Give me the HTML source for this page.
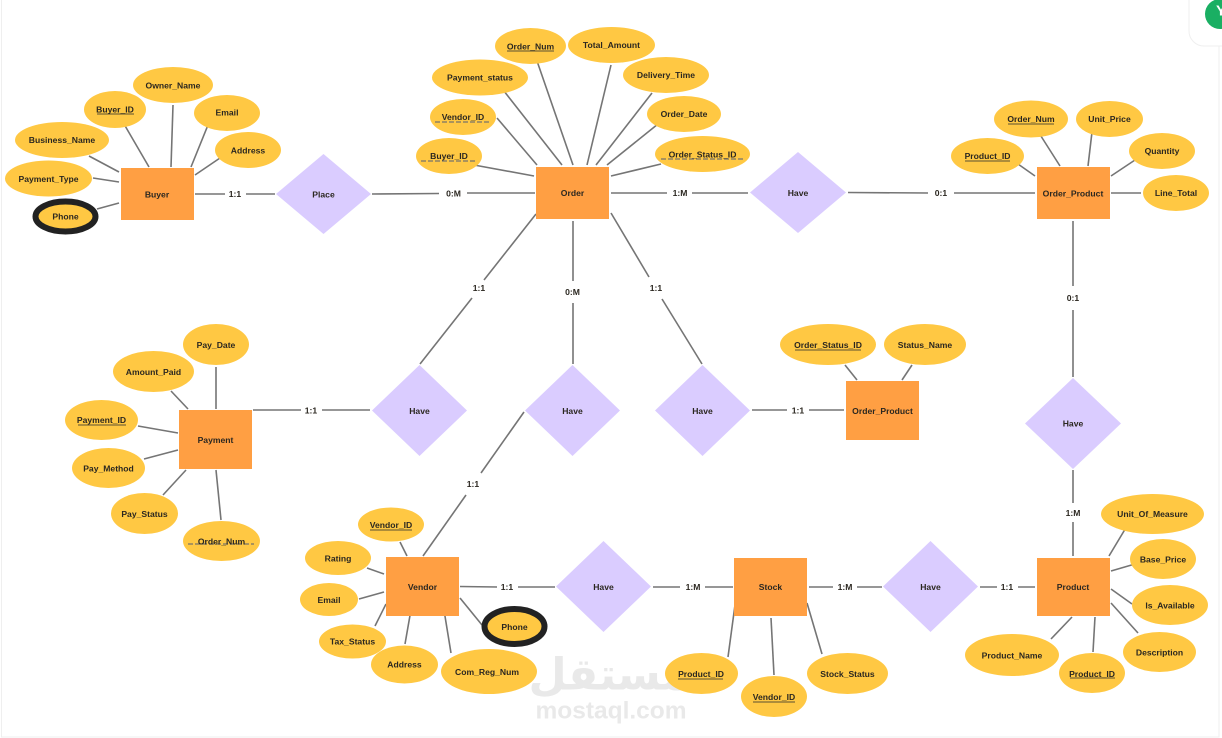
<!DOCTYPE html>
<html><head><meta charset="utf-8"><title>ER Diagram</title>
<style>
html,body{margin:0;padding:0;background:#fff;width:1222px;height:738px;overflow:hidden}
svg{display:block}
text{font-family:"Liberation Sans",sans-serif;font-size:8.6px;font-weight:700;fill:#2b2720;text-anchor:middle;dominant-baseline:central}
.l line{stroke:#757575;stroke-width:1.6}
.a{fill:#FFC843}
.e{fill:#FF9F43}
.d{fill:#DACCFF}
.u line{stroke:#5b5030;stroke-width:1}
.f line{stroke:#77736a;stroke-width:1.3;stroke-dasharray:5 2}
</style></head><body>
<svg width="1222" height="738" viewBox="0 0 1222 738" xmlns="http://www.w3.org/2000/svg">
<rect x="1.5" y="-2" width="1217.5" height="739" fill="#fff" stroke="#efefef" stroke-width="1"/>

<!-- watermark -->
<text x="609" y="675" style="font-family:'DejaVu Sans',sans-serif;font-size:44px;fill:#e9e9e9">مستقل</text>
<text x="611" y="711" style="font-size:24.5px;fill:#e9e9e9">mostaql.com</text>

<!-- corner widget -->
<rect x="1189" y="-20" width="60" height="66" rx="15" fill="#fff" stroke="#efefef"/>
<circle cx="1220" cy="14" r="15" fill="#1AAF63"/>
<text x="1221" y="11" style="font-size:15px;fill:#fff">Y</text>

<g class="l">
<!-- Buyer -->
<line x1="124" y1="124" x2="149" y2="167"/><line x1="173" y1="105" x2="171" y2="167"/><line x1="208" y1="125" x2="191" y2="167"/><line x1="220" y1="158" x2="195" y2="175"/><line x1="89" y1="156" x2="119" y2="172"/><line x1="93" y1="178" x2="119" y2="182"/><line x1="97" y1="209" x2="119" y2="203"/>
<line x1="195" y1="194" x2="225" y2="194"/><line x1="246" y1="194" x2="275" y2="194"/>
<line x1="372" y1="194" x2="439" y2="193.5"/><line x1="467" y1="193" x2="535" y2="193"/>
<!-- Order -->
<line x1="537" y1="61" x2="573" y2="165"/><line x1="611" y1="65" x2="587" y2="165"/><line x1="500" y1="86" x2="562" y2="165"/><line x1="652" y1="93" x2="596" y2="165"/><line x1="497" y1="118" x2="537" y2="165"/><line x1="658" y1="124" x2="607" y2="165"/><line x1="474" y1="165" x2="534" y2="176"/><line x1="661" y1="164" x2="611" y2="176"/>
<line x1="611" y1="193" x2="667" y2="193"/><line x1="692" y1="193" x2="748" y2="193"/>
<line x1="848" y1="192.5" x2="928" y2="193"/><line x1="954" y1="193" x2="1035" y2="193"/>
<!-- Order_Product top -->
<line x1="1039" y1="133" x2="1060" y2="166"/><line x1="1092" y1="132" x2="1088" y2="166"/><line x1="1018" y1="164" x2="1035" y2="176"/><line x1="1135" y1="160" x2="1111" y2="176"/><line x1="1111" y1="193" x2="1141" y2="193"/>
<line x1="1073" y1="221" x2="1073" y2="286"/><line x1="1073" y1="310" x2="1073" y2="377"/>
<line x1="1073" y1="470" x2="1073" y2="503"/><line x1="1073" y1="522" x2="1073" y2="556"/>
<!-- Product -->
<line x1="1127" y1="526" x2="1109" y2="556"/><line x1="1135" y1="564" x2="1111" y2="571"/><line x1="1132" y1="604" x2="1111" y2="589"/><line x1="1138" y1="633" x2="1111" y2="603"/><line x1="1095" y1="617" x2="1093" y2="652"/><line x1="1072" y1="617" x2="1051" y2="639"/>
<line x1="980" y1="587" x2="997" y2="587"/><line x1="1018" y1="587" x2="1035" y2="587"/>
<!-- Stock -->
<line x1="653" y1="587" x2="680" y2="587"/><line x1="705" y1="587" x2="733" y2="587"/><line x1="809" y1="587" x2="833" y2="587"/><line x1="857" y1="587" x2="882" y2="587"/>
<line x1="735" y1="605" x2="728" y2="657"/><line x1="771" y1="618" x2="774" y2="675"/><line x1="807" y1="603" x2="822" y2="654"/>
<!-- Vendor -->
<line x1="400" y1="542" x2="407" y2="556"/><line x1="423" y1="556" x2="466" y2="495"/><line x1="481" y1="473" x2="524" y2="412"/>
<line x1="367" y1="568" x2="384" y2="574"/><line x1="359" y1="599" x2="384" y2="592"/><line x1="386" y1="604" x2="375" y2="626"/><line x1="412" y1="604" x2="405" y2="644"/><line x1="443" y1="604" x2="451" y2="653"/><line x1="460" y1="598" x2="482" y2="625"/>
<line x1="460" y1="586.5" x2="497" y2="587"/><line x1="518" y1="587" x2="555" y2="587"/>
<!-- Order down -->
<line x1="536" y1="214" x2="484" y2="280"/><line x1="472" y1="298" x2="420" y2="364"/>
<line x1="573" y1="221" x2="573" y2="281"/><line x1="573" y1="303" x2="573" y2="364"/>
<line x1="611" y1="213" x2="649" y2="277"/><line x1="662" y1="299" x2="702" y2="364"/>
<!-- Status -->
<line x1="845" y1="365" x2="857" y2="380"/><line x1="912" y1="365" x2="902" y2="380"/>
<line x1="752" y1="410" x2="787" y2="410"/><line x1="809" y1="410" x2="844" y2="410"/>
<!-- Payment -->
<line x1="216" y1="367" x2="216" y2="409"/><line x1="171" y1="391" x2="188" y2="409"/><line x1="138" y1="426" x2="178" y2="433"/><line x1="144" y1="459" x2="178" y2="450"/><line x1="163" y1="495" x2="186" y2="470"/><line x1="216" y1="470" x2="221" y2="520"/>
<line x1="253" y1="410" x2="301" y2="410"/><line x1="322" y1="410" x2="370" y2="410"/>
</g>

<!-- Entities -->
<rect class="e" x="121" y="168" width="73" height="52"/>
<rect class="e" x="536" y="167" width="73" height="52"/>
<rect class="e" x="1037" y="167" width="73" height="52"/>
<rect class="e" x="179" y="410" width="73" height="59"/>
<rect class="e" x="846" y="381" width="73" height="59"/>
<rect class="e" x="386" y="557" width="73" height="59"/>
<rect class="e" x="734" y="558" width="73" height="58"/>
<rect class="e" x="1037" y="558" width="73" height="58"/>

<!-- Relationships -->
<polygon class="d" points="323.5,154 371,194 323.5,234 276,194"/>
<polygon class="d" points="798,152 846,192.5 798,233 750,192.5"/>
<polygon class="d" points="419.5,365 467,410.5 419.5,456 372,410.5"/>
<polygon class="d" points="572.5,365 620,410.5 572.5,456 525,410.5"/>
<polygon class="d" points="702.5,365 750,410.5 702.5,456 655,410.5"/>
<polygon class="d" points="1073,378 1121,423.5 1073,469 1025,423.5"/>
<polygon class="d" points="603.5,541 651,586.5 603.5,632 556,586.5"/>
<polygon class="d" points="930.5,541 978,586.5 930.5,632 883,586.5"/>

<!-- Attributes -->
<ellipse class="a" cx="173" cy="85" rx="40" ry="18"/><ellipse class="a" cx="115" cy="109.5" rx="31" ry="18.5"/><ellipse class="a" cx="227" cy="113" rx="33" ry="18"/><ellipse class="a" cx="248" cy="150" rx="33" ry="18"/><ellipse class="a" cx="62" cy="140" rx="47" ry="18"/><ellipse class="a" cx="48.5" cy="178.5" rx="43.5" ry="18"/>
<ellipse class="a" cx="65.5" cy="216.5" rx="30" ry="15" stroke="#222" stroke-width="6"/>

<ellipse class="a" cx="530.5" cy="46" rx="35.5" ry="18"/><ellipse class="a" cx="611.5" cy="45" rx="43.5" ry="18"/><ellipse class="a" cx="480" cy="77.5" rx="48" ry="18"/><ellipse class="a" cx="666" cy="75" rx="43" ry="18"/><ellipse class="a" cx="463" cy="117" rx="33" ry="18"/><ellipse class="a" cx="684" cy="114" rx="37" ry="18"/><ellipse class="a" cx="449" cy="156" rx="33" ry="18"/><ellipse class="a" cx="702.5" cy="154" rx="47.5" ry="18"/>

<ellipse class="a" cx="1031" cy="119" rx="37" ry="18.5"/><ellipse class="a" cx="1109.5" cy="119" rx="33.5" ry="18"/><ellipse class="a" cx="987.5" cy="156" rx="36.5" ry="18"/><ellipse class="a" cx="1162" cy="151" rx="33" ry="18"/><ellipse class="a" cx="1176" cy="193" rx="33" ry="18"/>

<ellipse class="a" cx="216" cy="344.5" rx="33" ry="20.5"/><ellipse class="a" cx="153.5" cy="371.5" rx="40.5" ry="20.5"/><ellipse class="a" cx="101.5" cy="420" rx="36.5" ry="20"/><ellipse class="a" cx="108.5" cy="468" rx="36.5" ry="20"/><ellipse class="a" cx="144.5" cy="513.5" rx="33.5" ry="20.5"/><ellipse class="a" cx="221.5" cy="541" rx="38.5" ry="20"/>

<ellipse class="a" cx="828" cy="344.5" rx="48" ry="20.5"/><ellipse class="a" cx="925" cy="344.5" rx="41" ry="20.5"/>

<ellipse class="a" cx="391" cy="524.5" rx="33" ry="17"/><ellipse class="a" cx="338" cy="558" rx="33" ry="17"/><ellipse class="a" cx="329" cy="599.5" rx="29" ry="16.5"/><ellipse class="a" cx="352.5" cy="641.5" rx="33.5" ry="17"/><ellipse class="a" cx="404.5" cy="664.5" rx="33.5" ry="19"/><ellipse class="a" cx="489" cy="671.5" rx="48" ry="22.5"/>
<ellipse class="a" cx="514.5" cy="626.5" rx="30" ry="17.5" stroke="#222" stroke-width="6"/>

<ellipse class="a" cx="701.5" cy="673.5" rx="36.5" ry="20.5"/><ellipse class="a" cx="774" cy="696.5" rx="33" ry="20.5"/><ellipse class="a" cx="847.5" cy="673.5" rx="40.5" ry="20.5"/>

<ellipse class="a" cx="1152.5" cy="514" rx="51.5" ry="20"/><ellipse class="a" cx="1163" cy="559" rx="33" ry="20"/><ellipse class="a" cx="1170" cy="605" rx="38" ry="20"/><ellipse class="a" cx="1159.5" cy="652" rx="36.5" ry="20"/><ellipse class="a" cx="1092" cy="673" rx="33" ry="20"/><ellipse class="a" cx="1012" cy="655" rx="47" ry="21"/>

<!-- Underlines -->
<g class="u">
<line x1="97" y1="114" x2="134" y2="114"/>
<line x1="507" y1="51" x2="554" y2="51"/>
<line x1="1008" y1="124" x2="1054" y2="124"/>
<line x1="965" y1="161" x2="1010" y2="161"/>
<line x1="78" y1="425" x2="126" y2="425"/>
<line x1="795" y1="350" x2="861" y2="350"/>
<line x1="370" y1="530" x2="412" y2="530"/>
<line x1="678" y1="679" x2="723" y2="679"/>
<line x1="753" y1="702" x2="795" y2="702"/>
<line x1="1070" y1="678" x2="1115" y2="678"/>
</g>
<g class="f">
<line x1="435" y1="122" x2="490" y2="122"/>
<line x1="421" y1="161" x2="477" y2="161"/>
<line x1="661" y1="159" x2="743" y2="159"/>
<line x1="188" y1="544" x2="254" y2="544"/>
</g>

<!-- Labels -->
<text x="173" y="85.5">Owner_Name</text><text x="115" y="109.5">Buyer_ID</text><text x="227" y="112.5">Email</text><text x="248" y="150.5">Address</text><text x="62" y="140">Business_Name</text><text x="48.5" y="179">Payment_Type</text><text x="65.5" y="216.5">Phone</text>
<text x="157" y="194.5">Buyer</text><text x="323.5" y="194.5">Place</text>
<text x="235" y="194">1:1</text><text x="453.5" y="193.5">0:M</text>

<text x="530.5" y="46.5">Order_Num</text><text x="611.5" y="45">Total_Amount</text><text x="480" y="77.5">Payment_status</text><text x="666" y="75">Delivery_Time</text><text x="463" y="117">Vendor_ID</text><text x="684" y="114">Order_Date</text><text x="449" y="156">Buyer_ID</text><text x="702.5" y="154.5">Order_Status_ID</text>
<text x="572.5" y="193">Order</text><text x="680" y="193">1:M</text><text x="798" y="193">Have</text><text x="941" y="193">0:1</text>

<text x="1031" y="119">Order_Num</text><text x="1109.5" y="119">Unit_Price</text><text x="987.5" y="156">Product_ID</text><text x="1162" y="151">Quantity</text><text x="1176" y="193">Line_Total</text><text x="1073" y="193.5">Order_Product</text>

<text x="1073" y="298">0:1</text><text x="1073" y="423.5">Have</text><text x="1073" y="513">1:M</text>
<text x="479" y="288">1:1</text><text x="572.5" y="292">0:M</text><text x="656" y="288">1:1</text>

<text x="216" y="345">Pay_Date</text><text x="153.5" y="372">Amount_Paid</text><text x="101.5" y="420">Payment_ID</text><text x="108.5" y="468.5">Pay_Method</text><text x="144.5" y="514">Pay_Status</text><text x="221.5" y="541.5">Order_Num</text>
<text x="215.5" y="440">Payment</text><text x="311" y="410.5">1:1</text><text x="419.5" y="411">Have</text><text x="572.5" y="411">Have</text><text x="702.5" y="411">Have</text><text x="798" y="410.5">1:1</text>
<text x="882.5" y="411">Order_Product</text><text x="828" y="345">Order_Status_ID</text><text x="925" y="345">Status_Name</text>

<text x="391" y="525">Vendor_ID</text><text x="338" y="558.5">Rating</text><text x="329" y="600">Email</text><text x="352.5" y="641.5">Tax_Status</text><text x="404.5" y="664.5">Address</text><text x="487" y="672">Com_Reg_Num</text><text x="514.5" y="627">Phone</text>
<text x="422.5" y="587">Vendor</text><text x="473" y="484">1:1</text><text x="507" y="587">1:1</text><text x="603.5" y="587">Have</text><text x="693" y="587">1:M</text><text x="770.5" y="587">Stock</text><text x="845" y="587">1:M</text><text x="930.5" y="587">Have</text><text x="1007" y="587">1:1</text><text x="1073" y="587">Product</text>

<text x="701" y="674">Product_ID</text><text x="774" y="697">Vendor_ID</text><text x="847.5" y="674">Stock_Status</text>
<text x="1152.5" y="514">Unit_Of_Measure</text><text x="1163" y="559.5">Base_Price</text><text x="1170" y="605.5">Is_Available</text><text x="1159.5" y="652.5">Description</text><text x="1092" y="674">Product_ID</text><text x="1012" y="655.5">Product_Name</text>
</svg>
</body></html>
